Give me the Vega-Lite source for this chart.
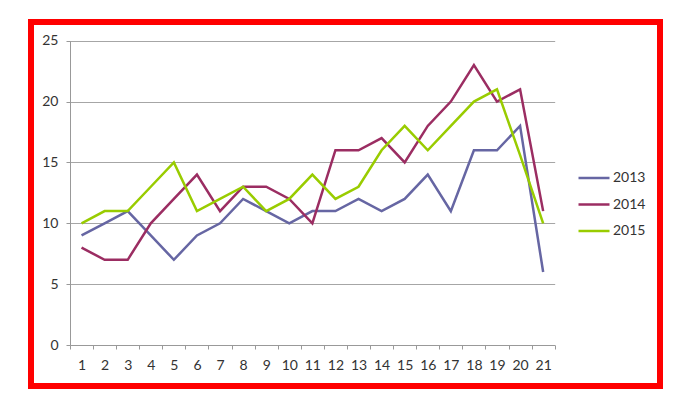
{
  "$schema": "https://vega.github.io/schema/vega-lite/v6.json",
  "width": 629,
  "height": 364,
  "autosize": {"type": "none"},
  "padding": {"left": 31, "top": 22, "right": 27, "bottom": 20},
  "background": "white",
  "config": {"view": {"stroke": "#ff0000", "strokeWidth": 6}, "font": "Lato"},
  "data": {"values": [
    {"x": 1, "year": "2013", "v": 9}, {"x": 2, "year": "2013", "v": 10}, {"x": 3, "year": "2013", "v": 11}, {"x": 4, "year": "2013", "v": 9}, {"x": 5, "year": "2013", "v": 7}, {"x": 6, "year": "2013", "v": 9}, {"x": 7, "year": "2013", "v": 10}, {"x": 8, "year": "2013", "v": 12}, {"x": 9, "year": "2013", "v": 11}, {"x": 10, "year": "2013", "v": 10}, {"x": 11, "year": "2013", "v": 11}, {"x": 12, "year": "2013", "v": 11}, {"x": 13, "year": "2013", "v": 12}, {"x": 14, "year": "2013", "v": 11}, {"x": 15, "year": "2013", "v": 12}, {"x": 16, "year": "2013", "v": 14}, {"x": 17, "year": "2013", "v": 11}, {"x": 18, "year": "2013", "v": 16}, {"x": 19, "year": "2013", "v": 16}, {"x": 20, "year": "2013", "v": 18}, {"x": 21, "year": "2013", "v": 6},
    {"x": 1, "year": "2014", "v": 8}, {"x": 2, "year": "2014", "v": 7}, {"x": 3, "year": "2014", "v": 7}, {"x": 4, "year": "2014", "v": 10}, {"x": 5, "year": "2014", "v": 12}, {"x": 6, "year": "2014", "v": 14}, {"x": 7, "year": "2014", "v": 11}, {"x": 8, "year": "2014", "v": 13}, {"x": 9, "year": "2014", "v": 13}, {"x": 10, "year": "2014", "v": 12}, {"x": 11, "year": "2014", "v": 10}, {"x": 12, "year": "2014", "v": 16}, {"x": 13, "year": "2014", "v": 16}, {"x": 14, "year": "2014", "v": 17}, {"x": 15, "year": "2014", "v": 15}, {"x": 16, "year": "2014", "v": 18}, {"x": 17, "year": "2014", "v": 20}, {"x": 18, "year": "2014", "v": 23}, {"x": 19, "year": "2014", "v": 20}, {"x": 20, "year": "2014", "v": 21}, {"x": 21, "year": "2014", "v": 11},
    {"x": 1, "year": "2015", "v": 10}, {"x": 2, "year": "2015", "v": 11}, {"x": 3, "year": "2015", "v": 11}, {"x": 4, "year": "2015", "v": 13}, {"x": 5, "year": "2015", "v": 15}, {"x": 6, "year": "2015", "v": 11}, {"x": 7, "year": "2015", "v": 12}, {"x": 8, "year": "2015", "v": 13}, {"x": 9, "year": "2015", "v": 11}, {"x": 10, "year": "2015", "v": 12}, {"x": 11, "year": "2015", "v": 14}, {"x": 12, "year": "2015", "v": 12}, {"x": 13, "year": "2015", "v": 13}, {"x": 14, "year": "2015", "v": 16}, {"x": 15, "year": "2015", "v": 18}, {"x": 16, "year": "2015", "v": 16}, {"x": 17, "year": "2015", "v": 18}, {"x": 18, "year": "2015", "v": 20}, {"x": 19, "year": "2015", "v": 21}, {"x": 20, "year": "2015", "v": 15.6}, {"x": 21, "year": "2015", "v": 10}
  ]},
  "mark": {"type": "line", "strokeWidth": 2.5},
  "encoding": {
    "x": {
      "field": "x", "type": "ordinal",
      "scale": {"type": "band", "paddingInner": 0, "paddingOuter": 0, "range": [39, 523.7]},
      "axis": {"title": null, "labelAngle": 0, "grid": false, "tickBand": "extent", "domainColor": "#999999", "tickColor": "#999999", "tickSize": 4, "labelFontSize": 14, "labelColor": "#333333", "labelPadding": 9, "offset": -41}
    },
    "y": {
      "field": "v", "type": "quantitative",
      "scale": {"domain": [0, 25], "range": [323, 18.7], "nice": false},
      "axis": {"title": null, "values": [0, 5, 10, 15, 20, 25], "offset": -39, "grid": true, "gridColor": "#a6a6a6", "domainColor": "#999999", "tickColor": "#999999", "tickSize": 4, "labelPadding": 8, "labelFontSize": 14, "labelColor": "#333333"}
    },
    "color": {
      "field": "year", "type": "nominal",
      "scale": {"domain": ["2013", "2014", "2015"], "range": ["#6666a3", "#9b2d62", "#99cc00"]},
      "legend": {"title": null, "orient": "none", "legendX": 546, "legendY": 139, "symbolType": "stroke", "symbolSize": 961, "symbolStrokeWidth": 2.5, "labelFontSize": 14, "labelColor": "#333333", "labelOffset": 2, "rowPadding": 2.5, "padding": 0}
    }
  }
}
